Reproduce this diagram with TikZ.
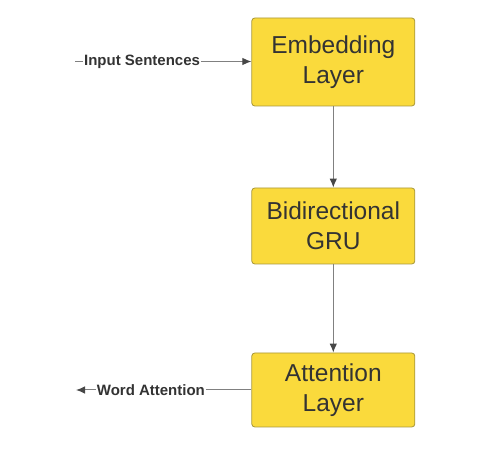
\documentclass[tikz,border=0pt]{standalone}
\usepackage{fontspec}
\setmainfont{Liberation Sans}
\usetikzlibrary{arrows.meta}
\definecolor{boxfill}{HTML}{FADA3C}
\definecolor{boxline}{HTML}{A8973A}
\definecolor{txt}{HTML}{333333}
\definecolor{conn}{HTML}{808080}
\begin{document}
\begin{tikzpicture}[x=1pt,y=-1pt,
  layerbox/.style={draw=boxline, fill=boxfill, rounded corners=3pt, line width=0.8pt,
    minimum width=163pt, minimum height=88pt, align=center, text=txt,
    font=\fontsize{24.5}{30}\selectfont, inner sep=0pt},
  conline/.style={draw=conn, line width=1pt},
  tip/.style={-{Latex[length=9pt,width=7.5pt,color=txt!90]}},
  lbl/.style={fill=white, inner sep=1pt, text=txt, font=\fontsize{15}{18}\selectfont\bfseries}]
\useasboundingbox (0,0) rectangle (480,449);
\node[layerbox, minimum height=88pt] (emb) at (333.3,62) {Embedding\\Layer};
\node[layerbox, minimum height=76pt] (gru) at (333.3,226) {Bidirectional\\GRU};
\node[layerbox, minimum height=74pt] (att) at (333.3,390) {Attention\\Layer};
\coordinate (in) at (75,61.5);
\coordinate (out) at (76,390);
\draw[conline, tip] (in) -- node[lbl, pos=0.38] {Input Sentences} (in -| emb.west);
\draw[conline, tip] (emb) -- (gru);
\draw[conline, tip] (gru) -- (att);
\draw[conline, tip] (att.west) -- node[lbl, pos=0.573] {Word Attention} (out);
\end{tikzpicture}
\end{document}
